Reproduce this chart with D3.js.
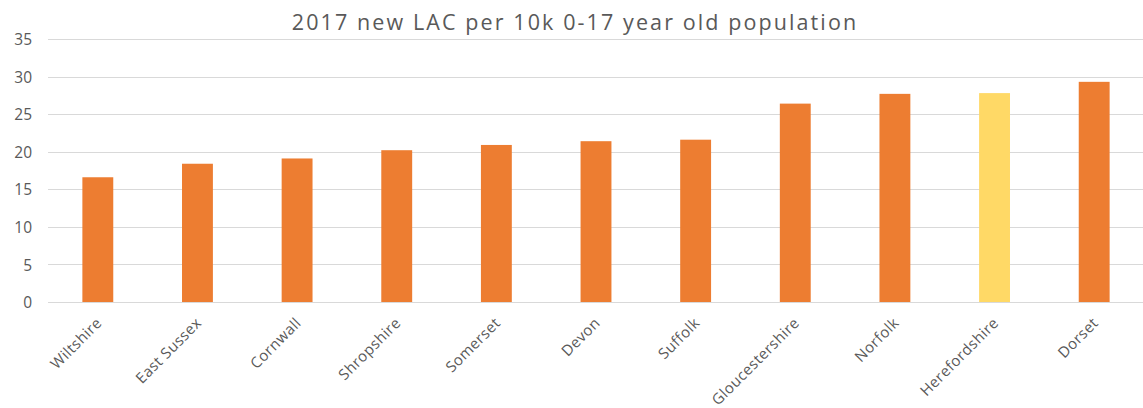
<!DOCTYPE html>
<html>
<head>
<meta charset="utf-8">
<script src="https://cdn.jsdelivr.net/npm/d3@7"></script>
<style>
  html, body { margin: 0; padding: 0; background: #fff; }
  svg { display: block; }
  text { font-family: "Open Sans", "Liberation Sans", sans-serif; fill: #595959; }
</style>
</head>
<body>
<svg id="chart" width="1143" height="408"></svg>
<script>
// New looked-after children per 10,000 population aged 0-17, 2017
const authorities = ["Wiltshire", "East Sussex", "Cornwall", "Shropshire", "Somerset",
  "Devon", "Suffolk", "Gloucestershire", "Norfolk", "Herefordshire", "Dorset"];
const rates = [16.6, 18.4, 19.1, 20.2, 20.9, 21.4, 21.6, 26.4, 27.7, 27.8, 29.3];
const highlighted = ["Herefordshire"];
const yTicks = [0, 5, 10, 15, 20, 25, 30, 35];
const chartTitle = "2017 new LAC per 10k 0-17 year old population";

const svg = d3.select("#chart");
const W = 1143, H = 408;
const margin = { left: 48, right: -1, top: 39, bottom: 106 };

const x = d3.scaleBand()
  .domain(authorities)
  .range([margin.left, W - margin.right])
  .paddingInner(0.69)
  .paddingOuter(0.345);

const y = d3.scaleLinear()
  .domain([0, 35])
  .range([H - margin.bottom, margin.top]);

// Horizontal gridlines
svg.append("g")
  .selectAll("line")
  .data(yTicks)
  .join("line")
  .attr("x1", margin.left)
  .attr("x2", W)
  .attr("y1", d => Math.round(y(d)) + 0.5)
  .attr("y2", d => Math.round(y(d)) + 0.5)
  .attr("stroke", "#d9d9d9")
  .attr("stroke-width", 1.2);

// Y axis labels
const yAxis = d3.axisLeft(y).tickValues(yTicks).tickSize(0).tickPadding(0);
const yg = svg.append("g")
  .attr("transform", `translate(${margin.left - 16},0)`)
  .call(yAxis);
yg.select(".domain").remove();
yg.selectAll("text")
  .attr("font-size", 15.5)
  .attr("font-family", "'Open Sans', sans-serif")
  .attr("fill", "#595959")
  .attr("dy", "0.36em");

// Bars
svg.append("g")
  .selectAll("rect")
  .data(authorities)
  .join("rect")
  .attr("x", d => x(d))
  .attr("width", x.bandwidth())
  .attr("y", (d, i) => y(rates[i]))
  .attr("height", (d, i) => y(0) - y(rates[i]))
  .attr("fill", d => highlighted.includes(d) ? "#ffd966" : "#ed7d31");

// X axis category labels, rotated
const xAxis = d3.axisBottom(x).tickSize(0).tickPadding(0);
const xg = svg.append("g")
  .attr("transform", `translate(0,${y(0)})`)
  .call(xAxis);
xg.select(".domain").remove();
xg.selectAll("text")
  .attr("font-size", 15)
  .attr("font-family", "'Open Sans', sans-serif")
  .attr("fill", "#595959")
  .attr("letter-spacing", "0.4px")
  .attr("text-anchor", "end")
  .attr("dy", "0")
  .attr("transform", "translate(5,22) rotate(-45)");

// Title
svg.append("text")
  .attr("x", 575)
  .attr("y", 30)
  .attr("text-anchor", "middle")
  .attr("font-size", 21.5)
  .attr("letter-spacing", "2.1px")
  .text(chartTitle);
</script>
</body>
</html>
